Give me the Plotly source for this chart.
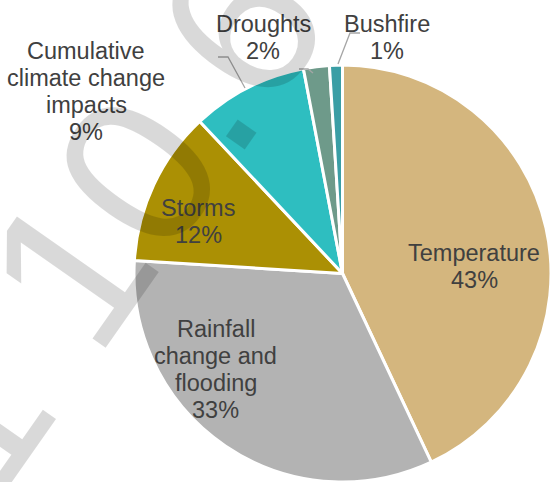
import plotly.graph_objects as go

# ---- data ----
categories = ["Temperature", "Rainfall change and flooding", "Storms",
              "Cumulative climate change impacts", "Droughts", "Bushfire"]
label_lines = [["Temperature"], ["Rainfall", "change and", "flooding"], ["Storms"],
               ["Cumulative", "climate change", "impacts"], ["Droughts"], ["Bushfire"]]
values = [43, 33, 12, 9, 2, 1]
colors = ["#D4B67E", "#B3B3B3", "#AB9004", "#2EBEC0", "#6E9A8A", "#3A9EA5"]

W, H = 551, 482

def px(x):
    return x / W

def py(y):
    return 1 - y / H

# pie geometry (pixels)
cx, cy, r = 342.5, 273.5, 208.5

fig = go.Figure(go.Pie(
    labels=categories, values=values, sort=False, direction="clockwise", rotation=0,
    marker=dict(colors=colors, line=dict(color="white", width=3)),
    textinfo="none", hoverinfo="label+percent", showlegend=False,
    domain=dict(x=[px(cx - r), px(cx + r)], y=[py(cy + r), py(cy - r)]),
))

# label positions: (x centre, first-line baseline) in pixels
label_pos = [(474, 261), (215.5, 336.7), (198, 216), (86, 59.5), (263, 32), (387, 32)]
font_size = 23.5
line_gap = 27
annotations = []
for lines, v, (x, y) in zip(label_lines, values, label_pos):
    all_lines = lines + [f"{v}%"]
    for i, t in enumerate(all_lines):
        yy = y + i * line_gap - 0.3465 * font_size
        annotations.append(dict(
            x=px(x), y=py(yy), xref="paper", yref="paper", text=t, showarrow=False,
            xanchor="center", yanchor="middle",
            font=dict(family="Liberation Sans, Arial, sans-serif", size=font_size, color="#404040"),
        ))

# watermark
annotations.append(dict(
    x=px(104), y=py(220.5), xref="paper", yref="paper", text="1 10.6", showarrow=False,
    xanchor="center", yanchor="middle", textangle=-55,
    font=dict(family="Liberation Sans, Arial, sans-serif", size=215, color="rgba(0,0,0,0.15)"),
))

# leader lines (pixels)
leaders = [
    [(218, 57), (228, 57), (245, 88)],
    [(299, 69), (308, 69), (313, 73)],
    [(360, 33), (350, 33), (338, 64)],
]
shapes = []
for pts in leaders:
    path = "M " + " L ".join(f"{px(a)},{py(b)}" for a, b in pts)
    shapes.append(dict(type="path", xref="paper", yref="paper", path=path,
                       line=dict(color="#A6A6A6", width=1.3)))

fig.update_layout(
    width=W, height=H, margin=dict(l=0, r=0, t=0, b=0),
    paper_bgcolor="white", plot_bgcolor="white",
    annotations=annotations, shapes=shapes,
)

fig.write_html("out.html")
